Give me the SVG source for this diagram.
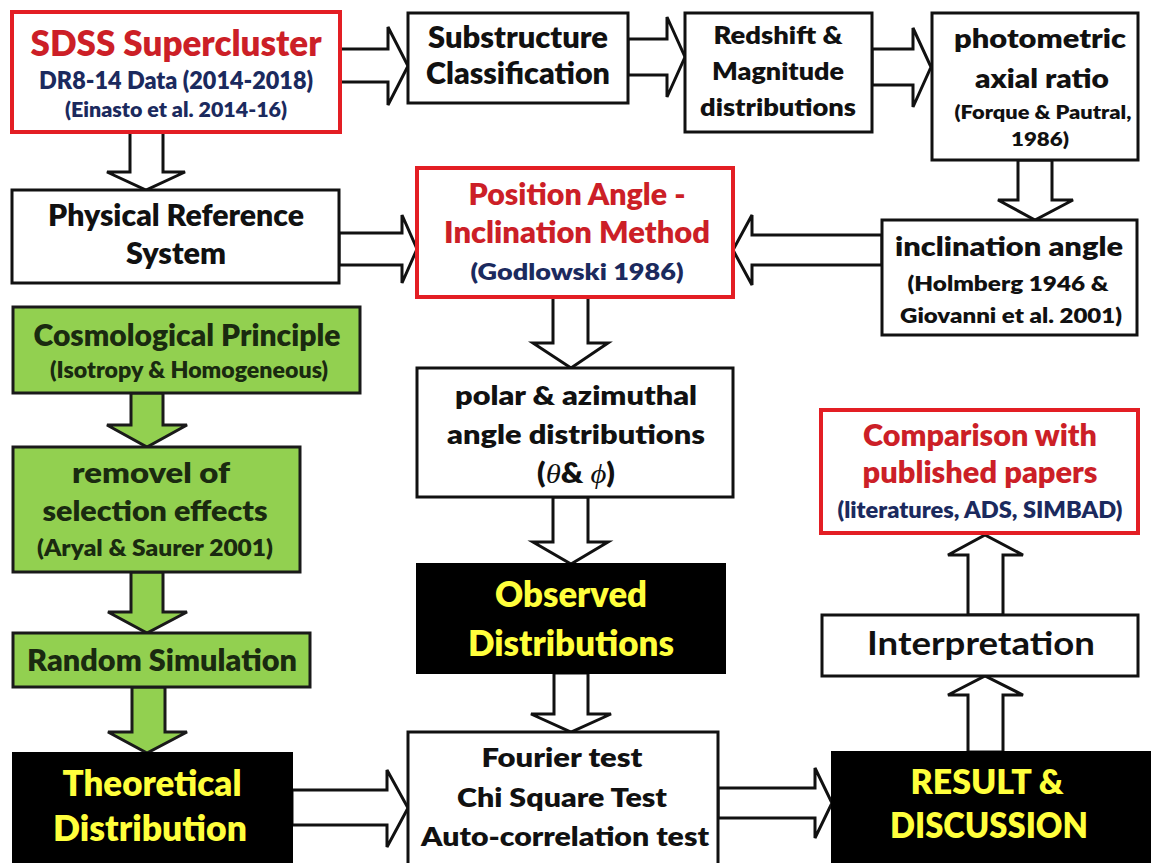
<svg xmlns="http://www.w3.org/2000/svg" width="1151" height="863" viewBox="0 0 1151 863">
<style>
text{font-family:Lato,"Open Sans","Liberation Sans",sans-serif;font-weight:800;text-anchor:middle}
.box{fill:#fff;stroke:#111;stroke-width:3}
.rbox{fill:#fff;stroke:#e31e24;stroke-width:4}
.gbox{fill:#92d050;stroke:#1a1a1a;stroke-width:3}
.kbox{fill:#000;stroke:#000;stroke-width:2}
.arr{fill:#fff;stroke:#111;stroke-width:3;stroke-linejoin:miter}
.garr{fill:#92d050;stroke:#1a1a1a;stroke-width:3}
.k{fill:#111}
.r{fill:#cc1f27}
.n{fill:#1b2a5e}
.y{fill:#ffff3c}
.g{fill:#1a2a10}
.sym{font-family:"Liberation Serif","DejaVu Serif",serif;font-style:italic;font-weight:normal}
</style>
<rect width="1151" height="863" fill="#fff"/>
<g id="connectors">
<polygon class="arr" points="340,49 388,49 388,27 408,66 388,105 388,82 340,82"/>
<polygon class="arr" points="628,39 667,39 667,17 685,57 667,97 667,75 628,75"/>
<polygon class="arr" points="872,49 913,49 913,28 931,67 913,107 913,85 872,85"/>
<polygon class="arr" points="130,132 130,172 107,172 146,190 185,172 163,172 163,132"/>
<polygon class="arr" points="339,233 402,233 402,215 417,249 402,283 402,265 339,265"/>
<polygon class="arr" points="1018,160 1018,200 998,200 1035,220 1073,200 1052,200 1052,160"/>
<polygon class="arr" points="882,235 752,235 752,215 733,250 752,285 752,265 882,265"/>
<polygon class="arr" points="553,297 553,343 533,343 571,368 608,343 588,343 588,297"/>
<polygon class="arr" points="553,497 553,542 533,542 571,564 608,542 588,542 588,497"/>
<polygon class="arr" points="554,673 554,714 531,714 571,732 611,714 588,714 588,673"/>
<polygon class="arr" points="292,790 387,790 387,770 408,808 387,847 387,825 292,825"/>
<polygon class="arr" points="718,788 815,788 815,768 832,803 815,838 815,818 718,818"/>
<polygon class="arr" points="968,752 968,695 948,695 985,676 1023,695 1003,695 1003,752"/>
<polygon class="arr" points="968,615 968,555 948,555 985,535 1023,555 1003,555 1003,615"/>
<polygon class="garr" points="131,393 131,425 107,425 147,447 187,425 163,425 163,393"/>
<polygon class="garr" points="131,572 131,612 108,612 147,633 187,612 163,612 163,572"/>
<polygon class="garr" points="132,687 132,732 108,732 147,753 187,732 165,732 165,687"/>
</g>
<g id="sdss">
<rect class="rbox" x="12" y="12" width="328" height="120"/>
<text class="r" x="176" y="56" font-size="35" textLength="291" lengthAdjust="spacingAndGlyphs">SDSS Supercluster</text>
<text class="n" x="176" y="89" font-size="24" textLength="274" lengthAdjust="spacingAndGlyphs">DR8-14 Data (2014-2018)</text>
<text class="n" x="176" y="117" font-size="20" textLength="222" lengthAdjust="spacingAndGlyphs">(Einasto et al. 2014-16)</text>
</g>
<g id="substructure">
<rect class="box" x="408" y="13" width="220" height="90"/>
<text class="k" x="518" y="48" font-size="30" textLength="180" lengthAdjust="spacingAndGlyphs">Substructure</text>
<text class="k" x="518" y="84" font-size="30" textLength="184" lengthAdjust="spacingAndGlyphs">Classification</text>
</g>
<g id="redshift">
<rect class="box" x="685" y="13" width="187" height="119"/>
<text class="k" x="778" y="44" font-size="24" textLength="129" lengthAdjust="spacingAndGlyphs">Redshift &amp;</text>
<text class="k" x="778" y="80" font-size="24" textLength="132" lengthAdjust="spacingAndGlyphs">Magnitude</text>
<text class="k" x="778" y="116" font-size="24" textLength="156" lengthAdjust="spacingAndGlyphs">distributions</text>
</g>
<g id="photometric">
<rect class="box" x="932" y="13" width="206" height="147"/>
<text class="k" x="1040" y="48" font-size="27" textLength="172" lengthAdjust="spacingAndGlyphs">photometric</text>
<text class="k" x="1042" y="88" font-size="27" textLength="134" lengthAdjust="spacingAndGlyphs">axial ratio</text>
<text class="k" x="1043" y="119" font-size="18" textLength="177" lengthAdjust="spacingAndGlyphs">(Forque &amp; Pautral,</text>
<text class="k" x="1040" y="146" font-size="18" textLength="58" lengthAdjust="spacingAndGlyphs">1986)</text>
</g>
<g id="physical">
<rect class="box" x="12" y="190" width="327" height="93"/>
<text class="k" x="176" y="226" font-size="30" textLength="256" lengthAdjust="spacingAndGlyphs">Physical Reference</text>
<text class="k" x="176" y="264" font-size="30" textLength="100" lengthAdjust="spacingAndGlyphs">System</text>
</g>
<g id="position">
<rect class="rbox" x="417" y="168" width="316" height="129"/>
<text class="r" x="577" y="205" font-size="30" textLength="217" lengthAdjust="spacingAndGlyphs">Position Angle -</text>
<text class="r" x="577" y="243" font-size="30" textLength="266" lengthAdjust="spacingAndGlyphs">Inclination Method</text>
<text class="n" x="577" y="280" font-size="23" textLength="213" lengthAdjust="spacingAndGlyphs">(Godlowski 1986)</text>
</g>
<g id="inclination">
<rect class="box" x="882" y="220" width="255" height="115"/>
<text class="k" x="1009" y="256" font-size="27" textLength="228" lengthAdjust="spacingAndGlyphs">inclination angle</text>
<text class="k" x="1008" y="291" font-size="20" textLength="201" lengthAdjust="spacingAndGlyphs">(Holmberg 1946 &amp;</text>
<text class="k" x="1011" y="323" font-size="20" textLength="222" lengthAdjust="spacingAndGlyphs">Giovanni  et al. 2001)</text>
</g>
<g id="cosmological">
<rect class="gbox" x="13" y="307" width="347" height="86"/>
<text class="g" x="187" y="346" font-size="31" textLength="307" lengthAdjust="spacingAndGlyphs">Cosmological Principle</text>
<text class="g" x="189" y="378" font-size="22" textLength="278" lengthAdjust="spacingAndGlyphs">(Isotropy &amp; Homogeneous)</text>
</g>
<g id="removel">
<rect class="gbox" x="13" y="447" width="287" height="125"/>
<text class="g" x="151" y="483" font-size="29" textLength="158" lengthAdjust="spacingAndGlyphs">removel of</text>
<text class="g" x="155" y="521" font-size="29" textLength="225" lengthAdjust="spacingAndGlyphs">selection effects</text>
<text class="g" x="155" y="556" font-size="22" textLength="236" lengthAdjust="spacingAndGlyphs">(Aryal &amp; Saurer 2001)</text>
</g>
<g id="random">
<rect class="gbox" x="13" y="633" width="297" height="54"/>
<text class="g" x="162" y="671" font-size="30" textLength="270" lengthAdjust="spacingAndGlyphs">Random Simulation</text>
</g>
<g id="theoretical">
<rect class="kbox" x="13" y="753" width="279" height="112"/>
<text class="y" x="152" y="796" font-size="35" textLength="179" lengthAdjust="spacingAndGlyphs">Theoretical</text>
<text class="y" x="150" y="841" font-size="35" textLength="194" lengthAdjust="spacingAndGlyphs">Distribution</text>
</g>
<g id="polar">
<rect class="box" x="417" y="368" width="316" height="129"/>
<text class="k" x="576" y="405" font-size="26" textLength="242" lengthAdjust="spacingAndGlyphs">polar &amp; azimuthal</text>
<text class="k" x="576" y="444" font-size="26" textLength="258" lengthAdjust="spacingAndGlyphs">angle distributions</text>
<text class="k" x="576" y="483" font-size="28" textLength="78" lengthAdjust="spacingAndGlyphs">(<tspan class="sym">θ</tspan>&amp; <tspan class="sym">ϕ</tspan>)</text>
</g>
<g id="observed">
<rect class="kbox" x="417" y="564" width="308" height="109"/>
<text class="y" x="571" y="607" font-size="35" textLength="152" lengthAdjust="spacingAndGlyphs">Observed</text>
<text class="y" x="571" y="656" font-size="35" textLength="206" lengthAdjust="spacingAndGlyphs">Distributions</text>
</g>
<g id="tests">
<rect class="box" x="408" y="732" width="310" height="135"/>
<text class="k" x="562" y="767" font-size="27" textLength="161" lengthAdjust="spacingAndGlyphs">Fourier test</text>
<text class="k" x="562" y="807" font-size="27" textLength="210" lengthAdjust="spacingAndGlyphs">Chi Square Test</text>
<text class="k" x="565" y="846" font-size="27" textLength="288" lengthAdjust="spacingAndGlyphs">Auto-correlation test</text>
</g>
<g id="result">
<rect class="kbox" x="832" y="752" width="320" height="113"/>
<text class="y" x="987" y="794" font-size="33" textLength="153" lengthAdjust="spacingAndGlyphs">RESULT &amp;</text>
<text class="y" x="989" y="838" font-size="35" textLength="198" lengthAdjust="spacingAndGlyphs">DISCUSSION</text>
</g>
<g id="interpretation">
<rect class="box" x="822" y="615" width="316" height="61"/>
<text class="k" x="981" y="655" font-size="32" style="font-weight:700" textLength="228" lengthAdjust="spacingAndGlyphs">Interpretation</text>
</g>
<g id="comparison">
<rect class="rbox" x="821" y="410" width="317" height="123"/>
<text class="r" x="980" y="446" font-size="30" textLength="234" lengthAdjust="spacingAndGlyphs">Comparison with</text>
<text class="r" x="980" y="483" font-size="30" textLength="235" lengthAdjust="spacingAndGlyphs">published papers</text>
<text class="n" x="980" y="518" font-size="22" textLength="285" lengthAdjust="spacingAndGlyphs">(literatures, ADS, SIMBAD)</text>
</g>
</svg>
